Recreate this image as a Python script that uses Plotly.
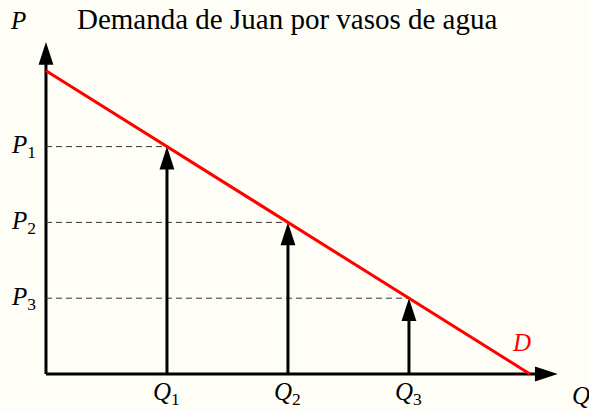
import plotly.graph_objects as go

# Demand curve P = 4 - Q and three marked quantity/price pairs
q_points = [1, 2, 3]
p_points = [3, 2, 1]
q_labels = ["Q", "Q", "Q"]
q_subs = ["1", "2", "3"]
p_subs = ["1", "2", "3"]
demand_q = [0, 4]
demand_p = [4, 0]
x_axis_end = 4.23
y_axis_end = 4.38
title_text = "Demanda de Juan por vasos de agua"

BG = "#FEFEF6"
SERIF = "Liberation Serif"
HEAD = 24          # arrowhead marker size (px)
SHAFT_GAP = 0.14   # shaft stops short of the tip so it hides under the head

fig = go.Figure()

# Axis lines
fig.add_trace(go.Scatter(x=[0, x_axis_end - 0.1], y=[0, 0], mode="lines",
                         line=dict(color="black", width=3), hoverinfo="skip"))
fig.add_trace(go.Scatter(x=[0, 0], y=[0, y_axis_end - 0.15], mode="lines",
                         line=dict(color="black", width=3), hoverinfo="skip"))

# Dashed guides from the price axis to the curve
for q, p in zip(q_points, p_points):
    fig.add_trace(go.Scatter(x=[0, q], y=[p, p], mode="lines",
                             line=dict(color="#333333", width=1, dash="6px,4px"),
                             hoverinfo="skip"))

# Vertical arrow shafts from each quantity up to the curve
for q, p in zip(q_points, p_points):
    fig.add_trace(go.Scatter(x=[q, q], y=[0, p - SHAFT_GAP], mode="lines",
                             line=dict(color="black", width=3), hoverinfo="skip"))

# Arrowheads: the "arrow" symbol has its tip at the data point
fig.add_trace(go.Scatter(
    x=q_points + [0, x_axis_end],
    y=p_points + [y_axis_end, 0],
    mode="markers",
    marker=dict(symbol="arrow", size=HEAD, color="black",
                angle=[0, 0, 0, 0, 90], line=dict(width=0)),
    hoverinfo="skip"))

# Demand line
fig.add_trace(go.Scatter(x=demand_q, y=demand_p, mode="lines",
                         line=dict(color="#FF0000", width=3), hoverinfo="skip"))

annotations = []
label_font = dict(family=SERIF, size=25, color="black")

# Quantity tick labels
for q, lab, sub in zip(q_points, q_labels, q_subs):
    annotations.append(dict(x=q, y=-0.03, xref="x", yref="y", showarrow=False,
                            text=f"<i>{lab}</i><sub>{sub}</sub>",
                            xanchor="center", yanchor="top", font=label_font))

# Price tick labels
for p, sub in zip(p_points, p_subs):
    annotations.append(dict(x=-0.07, y=p, xref="x", yref="y", showarrow=False,
                            text=f"<i>P</i><sub>{sub}</sub>",
                            xanchor="right", yanchor="middle", font=label_font))

# Axis names, curve name and title
annotations.append(dict(x=-0.23, y=4.67, xref="x", yref="y", showarrow=False,
                        text="<i>P</i>", font=label_font))
annotations.append(dict(x=4.33, y=-0.28, xref="x", yref="y", showarrow=False,
                        text="<i>Q</i>", xanchor="left", font=label_font))
annotations.append(dict(x=3.93, y=0.41, xref="x", yref="y", showarrow=False,
                        text="<i>D</i>", font=dict(family=SERIF, size=25, color="#FF0000")))
annotations.append(dict(x=1.99, y=4.68, xref="x", yref="y", showarrow=False,
                        text=title_text, font=dict(family=SERIF, size=29, color="black")))

fig.update_layout(
    width=589, height=410,
    margin=dict(l=0, r=0, t=0, b=0),
    paper_bgcolor=BG, plot_bgcolor=BG,
    showlegend=False,
    xaxis=dict(range=[-0.380, 4.488], visible=False, fixedrange=True),
    yaxis=dict(range=[-0.475, 4.934], visible=False, fixedrange=True),
    annotations=annotations,
)

fig.write_html("out.html")
